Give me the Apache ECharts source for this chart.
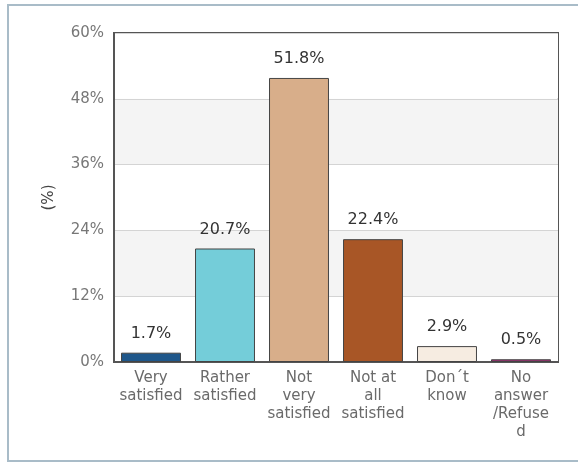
<!DOCTYPE html>
<html>
<head>
<meta charset="utf-8">
<script src="https://cdn.jsdelivr.net/npm/echarts@6/dist/echarts.min.js"></script>
<style>
  html, body { margin: 0; padding: 0; background: #fff; overflow: hidden; }
  #frame { position: absolute; left: 7px; top: 4px; width: 575px; height: 458px;
           border: 2px solid #a9bcc8; border-right: none; box-sizing: border-box; }
  #chart { position: absolute; left: 0; top: 0; width: 578px; height: 464px; }
</style>
</head>
<body>
<div id="frame"></div>
<div id="chart"></div>
<script>
var categories = ['Very\nsatisfied', 'Rather\nsatisfied', 'Not\nvery\nsatisfied', 'Not at\nall\nsatisfied', 'Don\u00b4t\nknow', 'No\nanswer\n/Refuse\nd'];
var values = [1.7, 20.7, 51.8, 22.4, 2.9, 0.5];
var colors = ['#1f578a', '#74cdd9', '#d8ae8a', '#a85626', '#f6ece1', '#9c2f72'];

var chart = echarts.init(document.getElementById('chart'));
chart.setOption({
  animation: false,
  grid: { left: 114, right: 20, top: 33, bottom: 102, show: true, borderColor: '#555', borderWidth: 2, backgroundColor: 'transparent' },
  xAxis: {
    type: 'category',
    data: categories,
    axisLine: { lineStyle: { color: '#555', width: 2 } },
    axisTick: { show: false },
    axisLabel: { color: '#6a6a6a', fontFamily: 'DejaVu Sans', fontSize: 15, lineHeight: 18, interval: 0, margin: 7 }
  },
  yAxis: {
    type: 'value',
    min: 0, max: 60, interval: 12,
    name: '(%)',
    nameLocation: 'middle',
    nameGap: 57,
    nameRotate: 90,
    nameTextStyle: { color: '#444', fontFamily: 'DejaVu Sans', fontSize: 15 },
    axisLine: { show: true, lineStyle: { color: '#555', width: 2 } },
    axisTick: { show: false },
    axisLabel: { formatter: '{value}%', color: '#777', fontFamily: 'DejaVu Sans', fontSize: 15, margin: 10 },
    splitLine: { lineStyle: { color: '#d4d4d4' } },
    splitArea: { show: true, areaStyle: { color: ['#ffffff', '#f4f4f4'] } }
  },
  series: [{
    type: 'bar',
    data: values.map(function (v, i) { return { value: v, itemStyle: { color: colors[i] } }; }),
    barCategoryGap: '19%',
    itemStyle: { borderColor: '#444', borderWidth: 1 },
    label: { show: true, position: 'top', distance: 11, formatter: '{c}%', color: '#333', fontFamily: 'DejaVu Sans', fontSize: 16 }
  }]
});
</script>
</body>
</html>
